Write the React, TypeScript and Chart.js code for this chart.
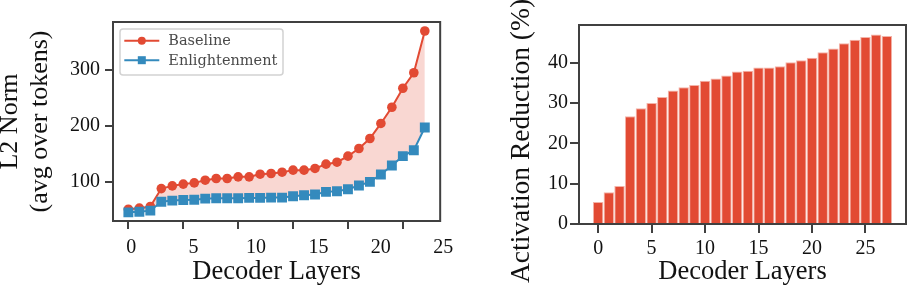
import React, { useEffect, useRef } from "react";
import { Chart, registerables } from "chart.js";

Chart.register(...registerables);

// Decoder layer index (x axis of both panels)
const layers = [0, 1, 2, 3, 4, 5, 6, 7, 8, 9, 10, 11, 12, 13, 14, 15, 16, 17, 18, 19, 20, 21, 22, 23, 24, 25, 26, 27];

// Hidden-state L2 norm averaged over tokens
const baselineNorm = [51, 53, 56, 88, 92.8, 96, 98.2, 103, 106, 106, 109, 109, 113.7, 115, 117.3, 121, 121, 124, 131.7, 135.2, 146, 159.7, 177.6, 204.5, 233.5, 267.5, 295.2, 369.9];
const enlightenmentNorm = [45.5, 46.5, 48.5, 64.5, 66.5, 67.5, 68, 70, 70.7, 70.7, 70.7, 71.3, 71.3, 71.9, 71.9, 74.3, 76.1, 77.3, 82.1, 83.3, 86.9, 93.4, 100, 113.1, 129.3, 146, 156.7, 197.3];

// Relative activation reduction per layer (%)
const activationReduction = [5.45, 7.9, 9.4, 26.7, 28.7, 30.0, 31.5, 33.1, 33.9, 34.5, 35.5, 36.1, 36.8, 37.8, 38.0, 38.8, 38.8, 39.1, 40.1, 40.6, 41.2, 42.6, 43.5, 44.8, 45.7, 46.4, 47.0, 46.6];

// Tick labels
const layerTicks = [0, 5, 10, 15, 20, 25];
const normTicks = [100, 200, 300];
const reductionTicks = [0, 10, 20, 30, 40];

const RED = "#E24A33";
const BLUE = "#348ABD";
const FILL = "rgba(226, 74, 51, 0.22)";
const BAR_EDGE = "#f4b3a8";
const SPINE = "#404040";
const INK = "#111111";
const SERIF = "'Liberation Serif', 'Times New Roman', serif";

Chart.defaults.font.family = SERIF;
Chart.defaults.color = INK;

const setTicks = (values: number[]) => (scale: any) => {
  scale.ticks = values.map((value) => ({ value }));
};

// Full rectangular frame around the plotting area
const framePlugin = {
  id: "frame",
  afterDraw(chart: any) {
    const { ctx, chartArea } = chart;
    const { left, top, right, bottom } = chartArea;
    ctx.save();
    ctx.strokeStyle = SPINE;
    ctx.lineWidth = 2;
    ctx.strokeRect(left, top, right - left, bottom - top);
    ctx.restore();
  },
};

// Boxed legend placed inside the upper-left corner of the plot
const insetLegendPlugin = {
  id: "insetLegend",
  afterDraw(chart: any, _args: any, opts: any) {
    if (!opts || !opts.display) return;
    const { ctx, chartArea } = chart;
    const x = chartArea.left + opts.x;
    const y = chartArea.top + opts.y;
    ctx.save();
    ctx.beginPath();
    ctx.roundRect(x, y, opts.width, opts.height, 3);
    ctx.fillStyle = "rgba(255,255,255,0.85)";
    ctx.fill();
    ctx.strokeStyle = "#d2d2d2";
    ctx.lineWidth = 1.5;
    ctx.stroke();

    chart.data.datasets.forEach((ds: any, i: number) => {
      const cy = y + opts.rowStart + i * opts.rowGap;
      const lx0 = x + opts.lineStart;
      const lx1 = lx0 + opts.lineLength;
      const mx = (lx0 + lx1) / 2;
      ctx.strokeStyle = ds.borderColor;
      ctx.lineWidth = 2;
      ctx.beginPath();
      ctx.moveTo(lx0, cy);
      ctx.lineTo(lx1, cy);
      ctx.stroke();
      ctx.fillStyle = ds.borderColor;
      if (ds.pointStyle === "rect") {
        ctx.fillRect(mx - 4, cy - 4, 8, 8);
      } else {
        ctx.beginPath();
        ctx.arc(mx, cy, 4, 0, Math.PI * 2);
        ctx.fill();
      }
      ctx.fillStyle = "#4a4a4a";
      ctx.font = opts.font;
      ctx.textAlign = "left";
      ctx.textBaseline = "middle";
      ctx.fillText(ds.label, x + opts.textStart, cy + 1);
    });
    ctx.restore();
  },
};

// Rotated y-axis caption drawn at an explicit spot
const sideTitlePlugin = {
  id: "sideTitle",
  afterDraw(chart: any, _args: any, opts: any) {
    if (!opts || !opts.text) return;
    const { ctx } = chart;
    ctx.save();
    ctx.translate(opts.x, opts.y);
    ctx.rotate(-Math.PI / 2);
    ctx.font = opts.font;
    ctx.fillStyle = INK;
    ctx.textAlign = "center";
    ctx.textBaseline = "middle";
    ctx.fillText(opts.text, 0, 0);
    ctx.restore();
  },
};

const tickGrid = (len: number) => ({
  drawOnChartArea: false,
  drawTicks: true,
  tickLength: len,
  color: SPINE,
  lineWidth: 2,
  offset: false,
});

function normChart(canvas: HTMLCanvasElement) {
  return new Chart(canvas, {
    type: "line",
    data: {
      datasets: [
        {
          label: "Baseline",
          data: layers.map((l, i) => ({ x: l, y: baselineNorm[i] })),
          borderColor: RED,
          backgroundColor: FILL,
          fill: "+1",
          borderWidth: 2,
          pointStyle: "circle",
          pointRadius: 4.8,
          pointBackgroundColor: RED,
          pointBorderColor: RED,
          pointBorderWidth: 0,
          order: 1,
        },
        {
          label: "Enlightenment",
          data: layers.map((l, i) => ({ x: l, y: enlightenmentNorm[i] })),
          borderColor: BLUE,
          backgroundColor: BLUE,
          fill: false,
          borderWidth: 2,
          pointStyle: "rect",
          pointRadius: 7,
          pointBackgroundColor: BLUE,
          pointBorderColor: BLUE,
          pointBorderWidth: 0,
          order: 0,
        },
      ],
    },
    options: {
      animation: false,
      responsive: false,
      devicePixelRatio: 1,
      layout: { padding: { left: 0, top: 22, right: 19, bottom: 0 } },
      plugins: {
        legend: { display: false },
        tooltip: { enabled: false },
        insetLegend: {
          display: true,
          x: 7,
          y: 7,
          width: 163,
          height: 46,
          rowStart: 11.7,
          rowGap: 19.5,
          lineStart: 4.3,
          lineLength: 35,
          textStart: 48.3,
          font: "14.5px 'DejaVu Serif', serif",
        },
      } as any,
      scales: {
        x: {
          type: "linear",
          position: "bottom",
          weight: 0,
          min: -1.4,
          max: 28.4,
          border: { display: false },
          grid: tickGrid(8),
          ticks: { display: false },
          afterBuildTicks: setTicks(layerTicks),
          afterFit: (s: any) => {
            s.height = 8;
          },
        },
        xl: {
          type: "linear",
          position: "bottom",
          weight: 1,
          min: -1.46,
          max: 24.76,
          border: { display: false },
          grid: { display: false, drawTicks: false },
          ticks: { padding: 7, font: { size: 20 }, color: INK, autoSkip: false, maxRotation: 0 },
          afterBuildTicks: setTicks(layerTicks),
          afterFit: (s: any) => {
            s.height = 58;
          },
          title: {
            display: true,
            text: "Decoder Layers",
            font: { size: 26.5, lineHeight: 1.1 },
            padding: 0,
            color: INK,
          },
        },
        y: {
          type: "linear",
          min: 30,
          max: 386,
          border: { display: false },
          grid: tickGrid(8),
          ticks: { padding: 5, font: { size: 20 }, color: INK },
          afterBuildTicks: setTicks(normTicks),
          afterFit: (s: any) => {
            s.width = 113;
          },
          title: {
            display: true,
            text: ["L2 Norm", "(avg over tokens)"],
            font: { size: 26, lineHeight: 30 / 26 },
            padding: { top: -5 },
            color: INK,
          },
        },
      } as any,
    },
    plugins: [framePlugin, insetLegendPlugin],
  } as any);
}

function reductionChart(canvas: HTMLCanvasElement) {
  return new Chart(canvas, {
    type: "bar",
    data: {
      datasets: [
        {
          label: "Activation Reduction (%)",
          data: layers.map((l, i) => ({ x: l, y: activationReduction[i] })),
          backgroundColor: RED,
          borderColor: BAR_EDGE,
          borderWidth: 1,
          barPercentage: 0.98,
          categoryPercentage: 1,
        },
      ],
    },
    options: {
      animation: false,
      responsive: false,
      devicePixelRatio: 1,
      layout: { padding: { left: 0, top: 25, right: 2, bottom: 0 } },
      plugins: {
        legend: { display: false },
        tooltip: { enabled: false },
        sideTitle: {
          text: "Activation Reduction (%)",
          x: 32,
          y: 141,
          font: `27.5px ${SERIF}`,
        },
      } as any,
      scales: {
        x: {
          type: "linear",
          min: -1.79,
          max: 28.79,
          offset: false,
          border: { display: false },
          grid: tickGrid(9),
          ticks: { padding: 4, font: { size: 20 }, color: INK, autoSkip: false, maxRotation: 0 },
          afterBuildTicks: setTicks(layerTicks),
          afterFit: (s: any) => {
            s.height = 63;
          },
          title: {
            display: true,
            text: "Decoder Layers",
            font: { size: 26.5, lineHeight: 1.1 },
            padding: 0,
            color: INK,
          },
        },
        y: {
          type: "linear",
          min: 0,
          max: 49.35,
          border: { display: false },
          grid: tickGrid(9),
          ticks: { padding: 2, font: { size: 20 }, color: INK },
          afterBuildTicks: setTicks(reductionTicks),
          afterFit: (s: any) => {
            s.width = 89;
          },
        },
      } as any,
    },
    plugins: [framePlugin, sideTitlePlugin],
  } as any);
}

export default function App() {
  const leftRef = useRef<HTMLCanvasElement>(null);
  const rightRef = useRef<HTMLCanvasElement>(null);

  useEffect(() => {
    const left = normChart(leftRef.current!);
    const right = reductionChart(rightRef.current!);
    return () => {
      left.destroy();
      right.destroy();
    };
  }, []);

  return (
    <div
      style={{
        position: "fixed",
        left: 0,
        top: 0,
        width: 908,
        height: 287,
        background: "#ffffff",
        overflow: "hidden",
      }}
    >
      <canvas
        ref={leftRef}
        width={460}
        height={287}
        style={{ position: "absolute", left: 0, top: 0, width: 460, height: 287 }}
      />
      <canvas
        ref={rightRef}
        width={418}
        height={287}
        style={{ position: "absolute", left: 490, top: 0, width: 418, height: 287 }}
      />
    </div>
  );
}
